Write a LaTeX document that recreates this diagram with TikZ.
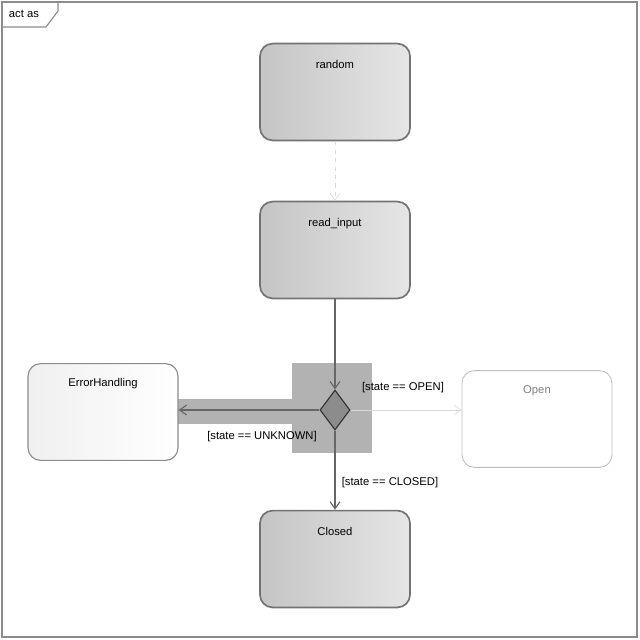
\documentclass[tikz,border=0pt]{standalone}
\usepackage{fontspec}
\setmainfont{Liberation Sans}
\usetikzlibrary{positioning,arrows.meta,shapes.geometric}
\begin{document}
\begin{tikzpicture}[x=0.025cm, y=-0.025cm,
					font=\fontsize{8}{9}\selectfont,
					statenode/.style={rectangle,
					rounded corners=9pt,
					line width=1.2pt,
					draw=black!55,
					left color=black!23,
					right color=black!10,
					minimum width=3.75cm,
					minimum height=2.42cm,
					inner sep=0pt},
					whitenode/.style={statenode,
					line width=0.8pt,
					draw=black!45,
					left color=black!6,
					right color=white},
					opennode/.style={whitenode,
					line width=0.6pt,
					draw=black!25,
					left color=white},
					choicenode/.style={diamond,
					draw=black!80,
					thick,
					fill=black!45,
					inner sep=0pt,
					minimum width=0.75cm,
					minimum height=1cm},
					flow/.style={-{Straight Barb[length=5pt,width=7pt]}, black!60, thick},
					faintflow/.style={-{Straight Barb[length=5pt,width=7pt]}, black!15, thin}
					]

\useasboundingbox (0,0) rectangle (640,640);

% frame
\draw[black!45, thick] (2,2) rectangle (637,637);
\draw[black!45, thick] (2,27) -- (46,27) -- (58,11) -- (58,2);
\node (framelbl) at (24,14) {act as};

% highlight of selected choice
\fill[black!30] (292,363) rectangle (372,453);
\fill[black!30] (178,399) rectangle (318,424);

%state nodes
\node[statenode] (random) at (335,92) {};
\node[statenode] (readinput) at (335,250) {};
\node[statenode] (closed) at (335,559) {};
\node[whitenode] (errorhandling) at (103,412) {};
\node[opennode] (open) at (537,419) {};
\node[choicenode] (choice) at (335,410) {};

% names
\node [below=0.32cm of random.north] {random};
\node [below=0.32cm of readinput.north] {read\_input};
\node [below=0.32cm of closed.north] {Closed};
\node [below=0.27cm of errorhandling.north] {ErrorHandling};
\node [below=0.27cm of open.north, black!50] {Open};

% Arrows
\draw[faintflow, dashed] (random.south) -- (readinput.north);
\draw[flow] (readinput.south) -- (choice.north);
\draw[flow] (choice.west) -- (choice.west -| errorhandling.east);
\draw[faintflow] (choice.east) -- (choice.east -| open.west);
\draw[flow] (choice.south) -- (closed.north);

% guards
\node (openlbl) at (403,388) {[state == OPEN]};
\node (unknownlbl) at (262,437) {[state == UNKNOWN]};
\node (closedlbl) at (390,483) {[state == CLOSED]};

\end{tikzpicture}
\end{document}
